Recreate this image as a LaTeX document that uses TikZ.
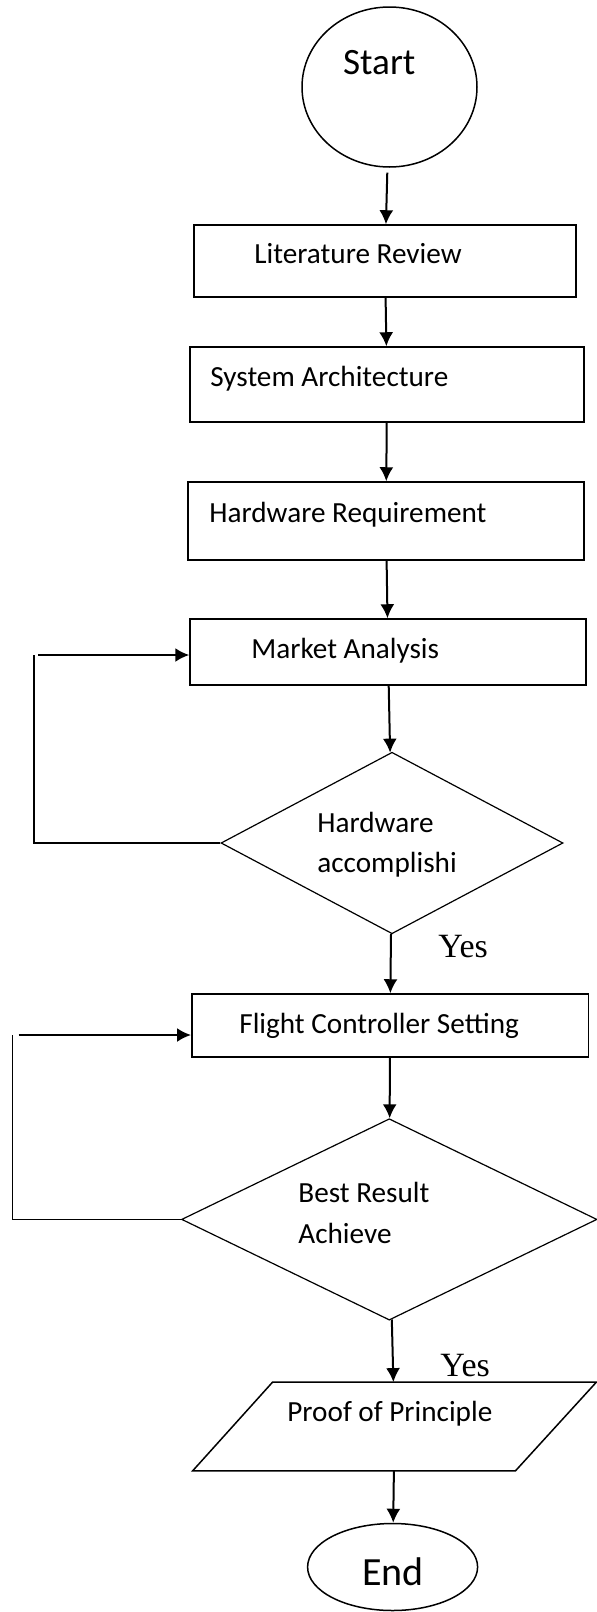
\documentclass[tikz,border=0pt]{standalone}
\usepackage{fontspec}
\setmainfont{Carlito}
\newfontfamily\timesfont{Liberation Serif}
\usetikzlibrary{shapes.geometric,arrows.meta}
\begin{document}
\begin{tikzpicture}[x=0.5pt, y=-0.5pt,
    boite/.style={draw, line width=0.75pt, inner sep=0pt},
    losange/.style={draw, diamond, line width=0.6pt, inner sep=0pt},
    texte/.style={anchor=base west, inner sep=0pt, font=\fontsize{14.6}{17}\selectfont},
    oui/.style={anchor=base west, inner sep=0pt, font=\timesfont\fontsize{17}{20}\selectfont},
    fleche/.style={line width=1pt, -{Latex[length=7pt,width=7pt]}},
    retour/.style={line width=0.8pt}]
    \useasboundingbox (0,0) rectangle (597,1612);

    % Formes
    \node[boite, ellipse, minimum width=87.5pt, minimum height=80pt] (debut) at (389.5,87) {};
    \node[boite, minimum width=191pt, minimum height=36pt] (revue) at (385,261) {};
    \node[boite, minimum width=197pt, minimum height=37.5pt] (archi) at (387,384.5) {};
    \node[boite, minimum width=198pt, minimum height=39pt] (materiel) at (386,521) {};
    \node[boite, minimum width=198pt, minimum height=33pt] (marche) at (388,652) {};
    \node[losange, minimum width=171pt, minimum height=90.75pt] (test1) at (392,843) {};
    \node[boite, minimum width=198.25pt, minimum height=31.5pt] (reglage) at (390,1025.5) {};
    \node[losange, minimum width=207.7pt, minimum height=100.7pt] (test2) at (389.3,1219.4) {};
    \node[inner sep=0pt, minimum width=201.5pt, minimum height=44pt] (preuve) at (394.5,1426.5) {};
    \draw[line width=0.75pt] ([xshift=40pt]preuve.north west) -- (preuve.north east)
        -- ([xshift=-40.5pt]preuve.south east) -- (preuve.south west) -- cycle;
    \node[boite, ellipse, minimum width=85pt, minimum height=43.5pt] (fin) at (392.6,1567) {};

    % Textes
    \node[texte, font=\fontsize{18.6}{22}\selectfont] (tDebut) at (342.7,74) {Start};
    \node[texte] (tRevue) at (254,263) {Literature Review};
    \node[texte] (tArchi) at (210,386) {System Architecture};
    \node[texte] (tMateriel) at (209,522) {Hardware Requirement};
    \node[texte] (tMarche) at (251,658) {Market Analysis};
    \node[texte] (tTest1a) at (317,832) {Hardware};
    \node[texte] (tTest1b) at (317,872) {accomplishi};
    \node[texte] (tReglage) at (239,1033) {Flight Controller Setting};
    \node[texte] (tTest2a) at (298,1202) {Best Result};
    \node[texte] (tTest2b) at (298,1243.5) {Achieve};
    \node[texte] (tPreuve) at (287,1421) {Proof of Principle};
    \node[texte, font=\fontsize{20}{24}\selectfont] (tFin) at (361.6,1585) {End};
    \node[oui] (oui1) at (438,957) {Yes};
    \node[oui] (oui2) at (440,1376) {Yes};

    % Flèches principales
    \draw[fleche, shorten <=2.5pt] (debut) -- (revue);
    \draw[fleche] (revue) -- (archi);
    \draw[fleche] (archi) -- (materiel);
    \draw[fleche] (materiel) -- (marche);
    \draw[fleche] (marche) -- (test1);
    \draw[fleche] (test1) -- (reglage);
    \draw[fleche] (reglage) -- (test2);
    \draw[fleche] (test2) -- (preuve);
    \draw[fleche] (preuve) -- (fin);

    % Boucles de retour
    \coordinate (coin1) at (34,655);
    \draw[retour] (test1.west) -| (coin1);
    \draw[fleche] ([xshift=2pt]coin1) -- (coin1 -| marche.west);

    \coordinate (coin2) at (12.5,1035);
    \draw[retour] (test2.west) -| (coin2);
    \draw[fleche] ([xshift=3pt]coin2) -- (coin2 -| reglage.west);

\end{tikzpicture}
\end{document}
